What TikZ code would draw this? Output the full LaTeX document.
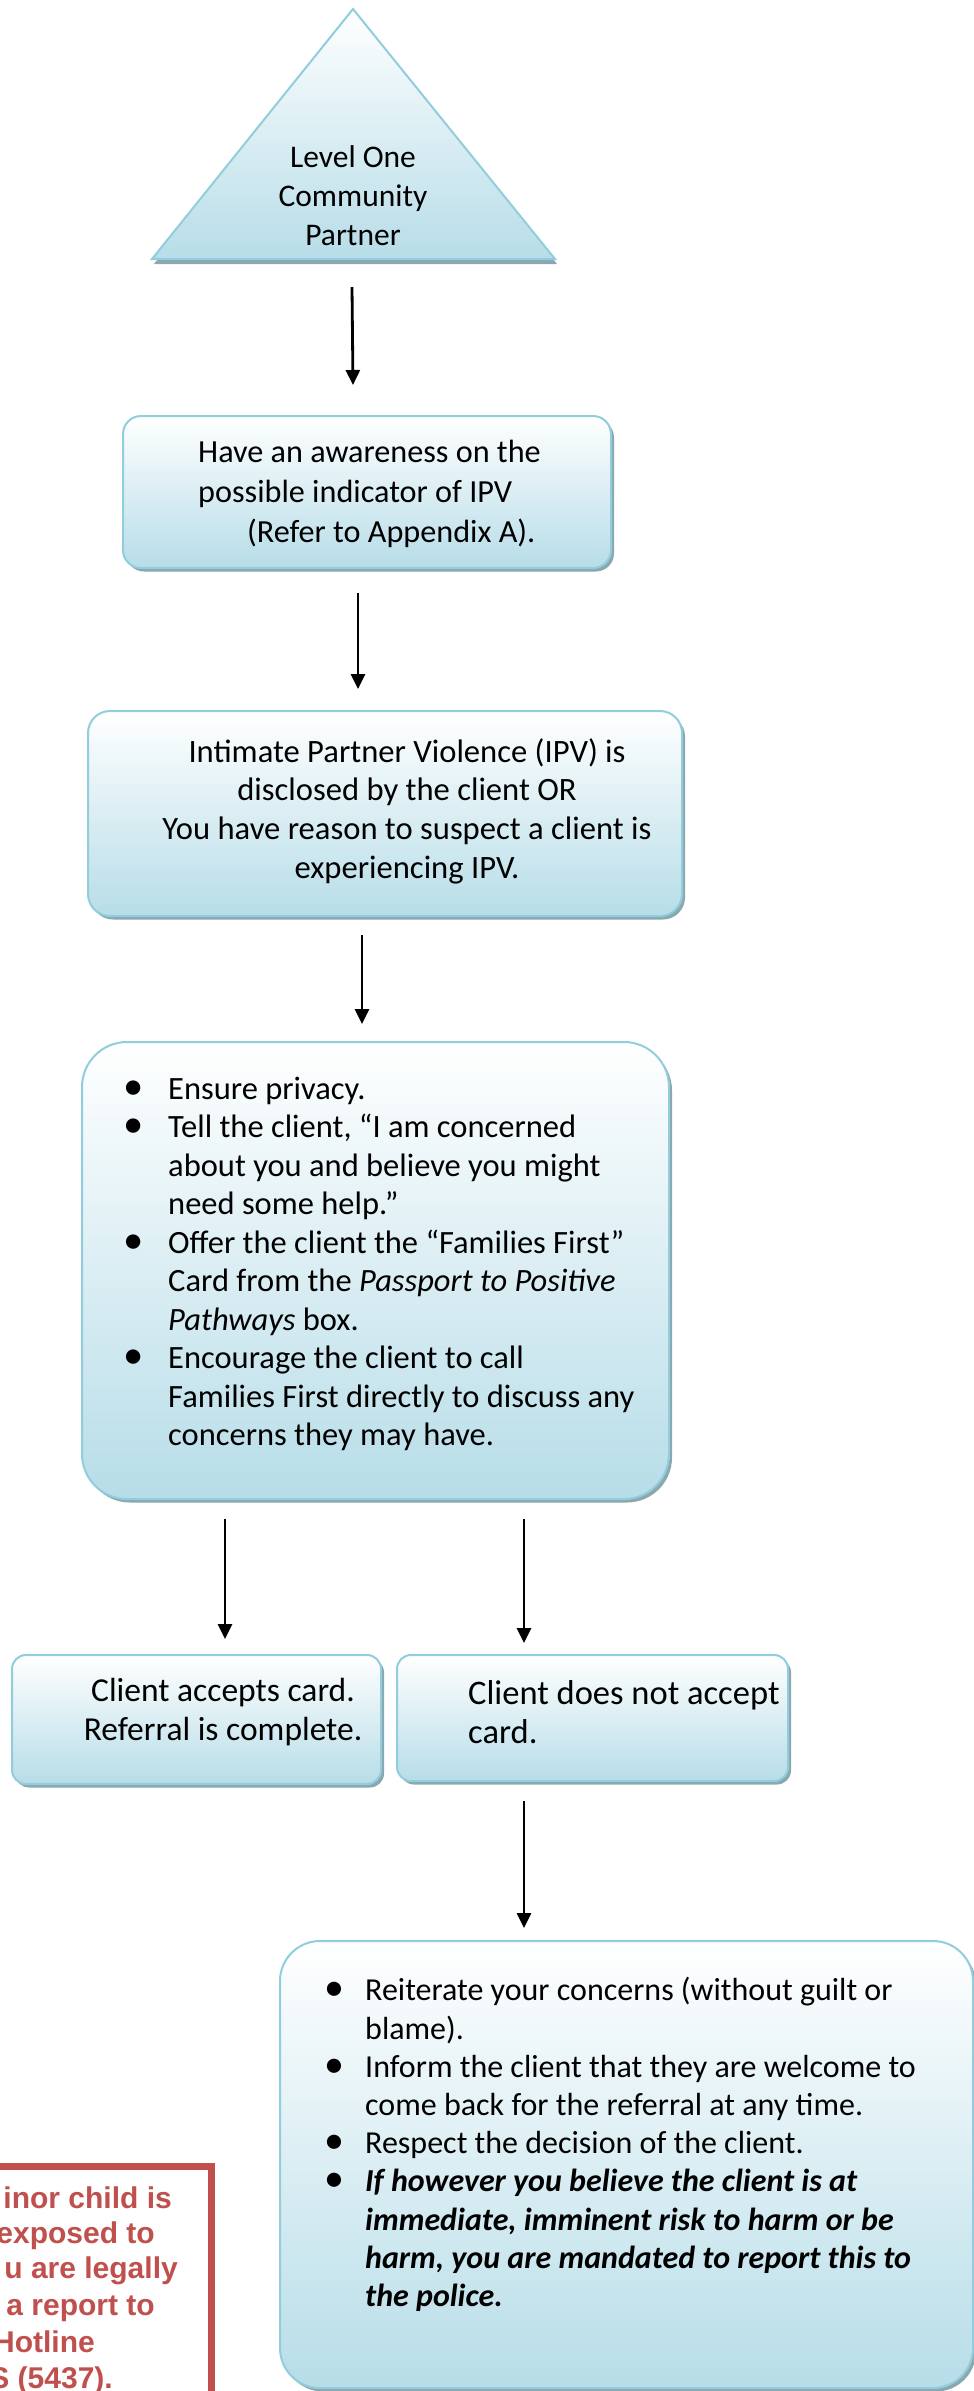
\documentclass[tikz,border=0pt]{standalone}
\usepackage{fontspec}
\setmainfont{Carlito}
\newfontfamily\arialfont{Liberation Sans}
\usetikzlibrary{arrows.meta,shadows,calc}
\definecolor{bxborder}{RGB}{146,205,221}
\definecolor{bxfill}{RGB}{183,221,232}
\definecolor{bxshadow}{RGB}{138,168,176}
\definecolor{warnred}{RGB}{192,80,77}
\newcommand{\bul}[1]{\makebox[#1][l]{\scalebox{1.25}{•}}}
\begin{document}
\begin{tikzpicture}[x=1pt,y=-1pt,
  bx/.style={draw=bxborder, line width=2pt, top color=white, bottom color=bxfill,
    rounded corners=#1, inner sep=0pt, anchor=north west,
    drop shadow={shadow xshift=3pt, shadow yshift=-3.5pt, fill=bxshadow, opacity=1}},
  txt/.style={font=\fontsize{31.5}{39}\selectfont, inner sep=0pt},
  arr/.style={line width=2.8pt, -{Triangle[length=15pt,width=14pt]}},
  warntxt/.style={font=\arialfont\bfseries\fontsize{30}{36}\selectfont, text=warnred, inner sep=0pt, anchor=base east}]
\fill[white] (0,0) rectangle (974,2391);
\useasboundingbox (0,0) rectangle (974,2391);

% triangle
\fill[bxshadow] (154,264) -- (354,13) -- (557,264) -- cycle;
\draw[bxborder, line width=2pt, top color=white, bottom color=bxfill] (152,259) -- (353,9) -- (555,259) -- cycle;
\coordinate (tribase) at (353,259);
\node[txt, align=center] (tri) at (353,196) {Level One\\Community\\Partner};

% box 1
\node[bx=18pt, minimum width=488pt, minimum height=152pt] (b1) at (122,415) {};
\node[txt, font=\fontsize{32.2}{40}\selectfont, align=left, anchor=west] (t1) at (198,494) {Have an awareness on the\\possible indicator of IPV\\\hspace*{49pt}(Refer to Appendix A).};

% box 2
\node[bx=22pt, minimum width=594pt, minimum height=205pt] (b2) at (87,710) {};
\node[txt, font=\fontsize{32.6}{38.7}\selectfont, align=center] (t2) at (407,811) {Intimate Partner Violence (IPV) is\\disclosed by the client OR\\You have reason to suspect a client is\\experiencing IPV.};

% box 3
\node[bx=45pt, minimum width=587pt, minimum height=457pt] (b3) at (81,1041) {};
\node[txt, font=\fontsize{32.5}{38.5}\selectfont, anchor=north west] (t3) at (123,1072) {%
\begin{tabular}{@{}l@{}l@{}}
\bul{45pt} & Ensure privacy.\\
\bul{45pt} & Tell the client, “I am concerned\\
 & about you and believe you might\\
 & need some help.”\\
\bul{45pt} & Offer the client the “Families First”\\
 & Card from the \textit{Passport to Positive}\\
 & \textit{Pathways} box.\\
\bul{45pt} & Encourage the client to call\\
 & Families First directly to discuss any\\
 & concerns they may have.
\end{tabular}};

% boxes 5
\node[bx=14pt, minimum width=369pt, minimum height=129pt] (b5l) at (11,1654) {};
\node[txt, font=\fontsize{33.5}{39.5}\selectfont, align=center] (t5l) at (223,1712) {Client accepts card.\\Referral is complete.};
\node[bx=14pt, minimum width=391pt, minimum height=126pt] (b5r) at (396,1654) {};
\node[txt, font=\fontsize{34.5}{39.5}\selectfont, align=left, anchor=west] (t5r) at (468,1712) {Client does not accept\\card.};

% box 7
\node[bx=40pt, minimum width=693pt, minimum height=447pt] (b7) at (279,1940) {};
\node[txt, font=\fontsize{32}{38.2}\selectfont, anchor=north west] (t7) at (324,1974) {%
\begin{tabular}{@{}l@{}l@{}}
\bul{41pt} & Reiterate your concerns (without guilt or\\
 & blame).\\
\bul{41pt} & Inform the client that they are welcome to\\
 & come back for the referral at any time.\\
\bul{41pt} & Respect the decision of the client.\\
\bul{41pt} & \textbf{\textit{If however you believe the client is at}}\\
 & \textbf{\textit{immediate, imminent risk to harm or be}}\\
 & \textbf{\textit{harm, you are mandated to report this to}}\\
 & \textbf{\textit{the police.}}
\end{tabular}};

% arrows
\draw[arr] ($(tribase)+(-1,28)$) -- ($(b1.north)+(-14,-30)$);
\draw[arr] ($(b1.south)+(-9,24)$) -- ($(b2.north)+(-27,-21)$);
\draw[arr] ($(b2.south)+(-23,18)$) -- ($(b3.north)+(-13.5,-17)$);
\draw[arr] ($(b3.south)+(-150.5,19)$) -- ($(b5l.north)+(28.5,-15)$);
\draw[arr] ($(b3.south)+(148.5,19)$) -- ($(b5r.north)+(-68.5,-11)$);
\draw[arr] ($(b5r.south)+(-68.5,19)$) -- ($(b7.north)+(-102.5,-12)$);

% red warning box (cut off by the page edge)
\begin{scope}
\clip (0,0) rectangle (974,2391);
\draw[warnred, line width=7pt] (-40,2166) rectangle (211.5,2460);
\coordinate (warn) at (211.5,2166);
\node[warntxt] (w1) at (172,2208) {inor child is};
\node[warntxt] (w2) at (155,2243) {exposed to};
\node[warntxt] (w3) at (178,2278) {u are legally};
\node[warntxt] (w4) at (155,2315) {a report to};
\node[warntxt] (w5) at (95,2352) {Hotline};
\node[warntxt] (w6) at (113,2388) {S (5437).};
\end{scope}
\end{tikzpicture}
\end{document}
